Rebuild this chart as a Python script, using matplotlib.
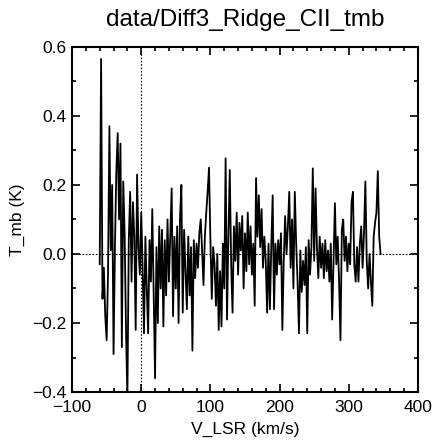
import numpy as np
import matplotlib
matplotlib.use("Agg")
import matplotlib.pyplot as plt
from matplotlib.ticker import MultipleLocator, FuncFormatter

# Velocity channels (km/s) and antenna temperatures (K)
v_start, v_step = -60, 2
tmb = [
    -0.03, 0.565, -0.13, -0.04, -0.18, -0.25, -0.06, 0.37, 0.01, 0.20,
    -0.29, 0.02, 0.24, 0.35, 0.10, 0.32, -0.27, 0.21, 0.06, -0.22,
    -0.42, 0.04, 0.18, -0.08, 0.15, 0.05, -0.22, 0.23, 0.02, -0.06,
    0.12, -0.04, -0.23, 0.05, -0.10, -0.23, 0.04, -0.08, 0.13, -0.12,
    -0.36, 0.02, -0.20, 0.08, -0.10, 0.07, -0.21, 0.04, -0.12, 0.10,
    -0.08, 0.06, 0.19, -0.18, 0.05, -0.10, 0.08, -0.20, 0.10, 0.20,
    -0.17, 0.07, -0.05, -0.16, 0.05, -0.12, 0.02, -0.28, 0.04, -0.07,
    0.03, -0.04, 0.06, 0.10, 0.01, -0.09, 0.05, 0.12, 0.18, 0.25,
    0.04, -0.13, 0.02, -0.03, -0.15, 0.00, -0.22, -0.05, -0.21, 0.03,
    -0.10, 0.277, -0.19, 0.05, 0.243, -0.03, -0.17, 0.08, -0.02, 0.12,
    -0.06, 0.09, 0.01, 0.11, -0.10, 0.06, -0.05, 0.12, -0.03, 0.08,
    -0.06, 0.03, -0.15, 0.22, 0.05, 0.17, 0.02, 0.13, -0.04, 0.05,
    -0.02, -0.17, 0.03, -0.16, 0.02, 0.17, -0.16, 0.03, -0.06, 0.04,
    -0.03, 0.06, -0.22, -0.02, 0.11, 0.00, 0.08, 0.18, -0.04, 0.10,
    -0.10, 0.18, 0.03, -0.08, -0.23, 0.01, -0.11, -0.02, -0.09, 0.02,
    -0.23, 0.04, -0.06, 0.02, 0.248, -0.02, 0.19, 0.02, -0.07, 0.05,
    -0.04, 0.03, -0.07, 0.04, -0.05, 0.01, -0.08, 0.03, -0.19, -0.02,
    0.147, -0.03, 0.05, -0.08, -0.25, 0.07, 0.10, -0.02, 0.05, -0.05,
    0.03, -0.03, 0.15, 0.18, -0.03, -0.08, 0.02, -0.08, 0.03, 0.08,
    -0.04, 0.06, 0.21, -0.02, -0.10, 0.00, -0.08, -0.15, 0.05, 0.09,
    0.12, 0.24, 0.05, 0.00,
]
velocity = v_start + v_step * np.arange(len(tmb))

title = "data/Diff3_Ridge_CII_tmb"
xlabel = "V_LSR (km/s)"
ylabel = "T_mb (K)"

plt.rcParams['font.family'] = ['Liberation Sans', 'DejaVu Sans']

fig = plt.figure(figsize=(4.34, 4.42), dpi=100)
ax = fig.add_axes([0.166, 0.113, 0.797, 0.781])

ax.plot(velocity, tmb, color='black', linewidth=1.3)
ax.axhline(0, color='black', linestyle=(0, (1.5, 1.5)), linewidth=0.8)
ax.axvline(0, color='black', linestyle=(0, (1.5, 1.5)), linewidth=0.8)

ax.set_xlim(-100, 400)
ax.set_ylim(-0.4, 0.6)
ax.xaxis.set_major_locator(MultipleLocator(100))
ax.xaxis.set_minor_locator(MultipleLocator(20))
ax.yaxis.set_major_locator(MultipleLocator(0.2))
ax.yaxis.set_minor_locator(MultipleLocator(0.1))
ax.yaxis.set_major_formatter(FuncFormatter(lambda y, p: f"{y:.1f}".replace("-", "\u2212") if abs(y) > 1e-9 else "0.0"))

ax.tick_params(which='both', direction='in', top=True, right=True, labelsize=12.5, width=1.2)
ax.tick_params(axis='x', which='major', pad=6)
ax.tick_params(axis='y', which='major', pad=4)
ax.tick_params(which='major', length=5.5)
ax.tick_params(which='minor', length=2.8)
for s in ax.spines.values():
    s.set_linewidth(1.5)

ax.set_title(title, fontsize=17.5, pad=15)
ax.set_xlabel(xlabel, fontsize=12.5, labelpad=5)
ax.set_ylabel(ylabel, fontsize=12.5, labelpad=5)

fig.savefig("out.png", dpi=100)
